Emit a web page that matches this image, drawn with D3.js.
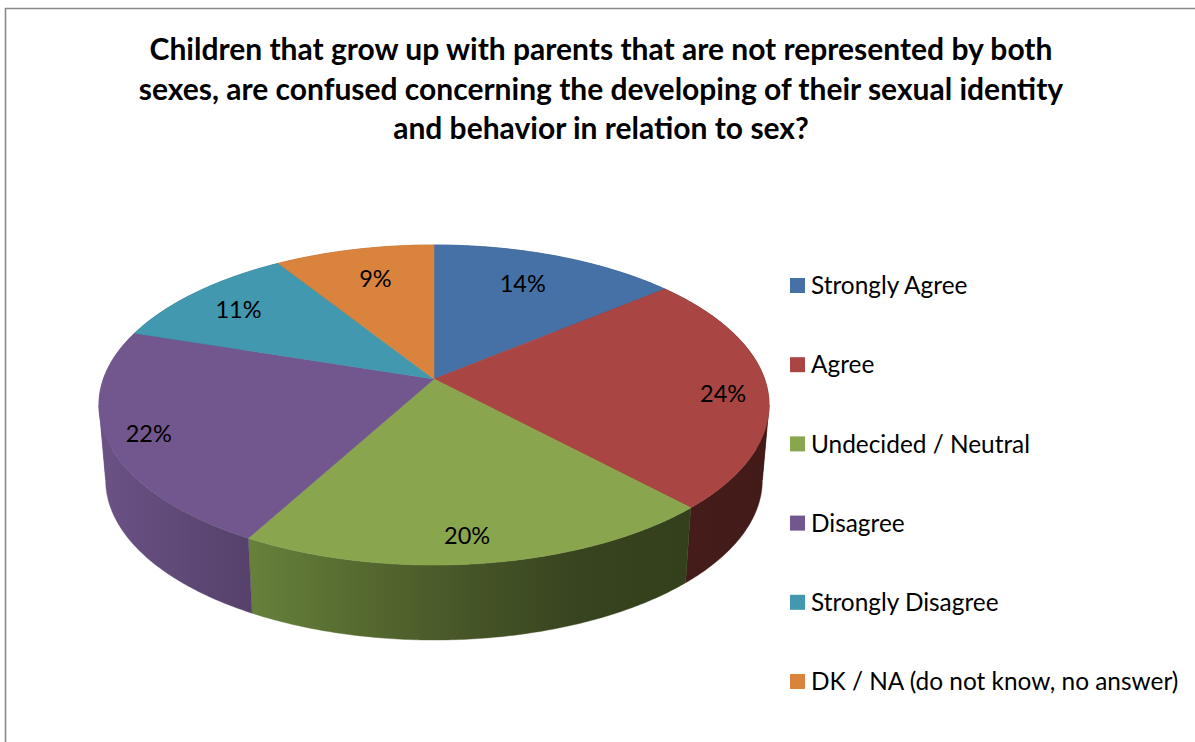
<!DOCTYPE html>
<html>
<head>
<meta charset="utf-8">
<script src="https://cdn.jsdelivr.net/npm/d3@7/dist/d3.min.js"></script>
<style>
  html, body { margin: 0; padding: 0; background: #fff; overflow: hidden; }
  svg { display: block; }
  text { font-family: Lato, "Noto Sans", sans-serif; fill: #000; }
</style>
</head>
<body>
<svg id="chart" width="1195" height="742"></svg>
<script>
// Survey answers
const categories = ["Strongly Agree", "Agree", "Undecided / Neutral", "Disagree", "Strongly Disagree", "DK / NA (do not know, no answer)"];
const shares = [14, 24, 20, 22, 11, 9];
const titleLines = [
  "Children that grow up with parents that are not represented by both",
  "sexes, are confused concerning the developing of their sexual identity",
  "and behavior in relation to sex?"
];

// Slice styling
const topColors = ["#4571a6", "#a94543", "#89a54e", "#71578e", "#4198af", "#d9833d"];
const sideStops = [
  ["#2f4c70", "#2f4c70"],
  ["#451c19", "#421b18"],
  ["#67813b", "#566a30", "#465527", "#374420", "#343f1b"],
  ["#6b5286", "#5f4a78", "#55416a"],
  ["#2c6676", "#2c6676"],
  ["#94592a", "#94592a"]
];
// Per-slice label shift from the 0.8-radius anchor point
const labelShiftX = [-12, 23, -5, -27, -2, 7];
const labelShiftY = [6, 7, 15, 7, 2, 6];

const svg = d3.select("#chart");
const defs = svg.append("defs");

// Tilted disc: perspective projection of a unit circle
const cx = 434, cy = 379;
const persp = 0.1625, scaleX = 330.6, scaleY = 155.8;
const depth = 75, baseShrink = 0.98;

function project(angle, r) {
  const u = Math.sin(angle) * r, v = -Math.cos(angle) * r;
  const d = 1 - persp * v;
  return [cx + scaleX * u / d, cy + scaleY * v / d];
}
function projectBase(angle) {
  const p = project(angle, 1);
  return [cx + baseShrink * (p[0] - cx), p[1] + depth];
}

const pie = d3.pie().value(d => d).sort(null);
const arcs = pie(shares);
const line = d3.line();
const arcSamples = (start, end) => {
  const n = Math.max(2, Math.ceil((end - start) / 0.01));
  return d3.range(n + 1).map(i => start + (end - start) * i / n);
};

// Angles where the rim reaches its far right and far left on screen
const turnRight = Math.acos(-persp);
const turnLeft = 2 * Math.PI - turnRight;

// Side wall: each slice is cut at those turning angles, so the outline
// closes with a straight edge between the two rims
const walls = svg.append("g");
arcs.forEach((a, i) => {
  const cuts = [a.startAngle]
    .concat([turnRight, turnLeft].filter(t => t > a.startAngle && t < a.endAngle), [a.endAngle]);
  const parts = d3.pairs(cuts).map(([s, e]) => arcSamples(s, e));
  const all = parts.flat();
  const xs = d3.extent(all.map(t => project(t, 1)[0]).concat(all.map(t => projectBase(t)[0])));
  const id = "wall" + i;
  const grad = defs.append("linearGradient").attr("id", id)
    .attr("gradientUnits", "userSpaceOnUse")
    .attr("x1", xs[0]).attr("x2", xs[1]).attr("y1", 0).attr("y2", 0);
  sideStops[i].forEach((c, j, stops) => {
    grad.append("stop").attr("offset", j / (stops.length - 1)).attr("stop-color", c);
  });
  walls.append("g").selectAll("path").data(parts).join("path")
    .attr("d", p => line(p.map(t => project(t, 1)).concat(p.map(projectBase).reverse())) + "Z")
    .attr("fill", `url(#${id})`)
    .attr("stroke", `url(#${id})`)
    .attr("stroke-width", 0.4);
});

// Top face
svg.append("g").selectAll("path").data(arcs).join("path")
  .attr("d", a => line([[cx, cy]].concat(arcSamples(a.startAngle, a.endAngle).map(t => project(t, 1)))) + "Z")
  .attr("fill", (a, i) => topColors[i])
  .attr("stroke", (a, i) => topColors[i])
  .attr("stroke-width", 0.6);

// Percentage labels
svg.append("g").selectAll("text").data(arcs).join("text")
  .attr("x", (a, i) => project((a.startAngle + a.endAngle) / 2, 0.8)[0] + labelShiftX[i])
  .attr("y", (a, i) => project((a.startAngle + a.endAngle) / 2, 0.8)[1] + labelShiftY[i])
  .attr("dy", "0.35em")
  .attr("text-anchor", "middle")
  .attr("font-size", 23.5)
  .text(a => a.data + "%");

// Chart frame: only its left and top edges fall inside the canvas
svg.append("path")
  .attr("d", "M5.5,742V8.5H1195")
  .attr("fill", "none")
  .attr("stroke", "#8a8a8a")
  .attr("stroke-width", 1.6);

// Title
svg.append("g").selectAll("text").data(titleLines).join("text")
  .attr("x", 601)
  .attr("y", (d, i) => 60 + i * 39.5)
  .attr("text-anchor", "middle")
  .attr("font-size", 30)
  .attr("font-weight", 700)
  .text(d => d);

// Legend
const legendY = d3.scalePoint().domain(categories).range([285.5, 681.5]);
const legend = svg.append("g").selectAll("g").data(categories).join("g")
  .attr("transform", d => `translate(790,${legendY(d)})`);
legend.append("rect")
  .attr("y", -7.5).attr("width", 15).attr("height", 15)
  .attr("fill", (d, i) => topColors[i]);
legend.append("text")
  .attr("x", 21).attr("y", 8.7)
  .attr("font-size", 24.4)
  .text(d => d);
</script>
</body>
</html>
